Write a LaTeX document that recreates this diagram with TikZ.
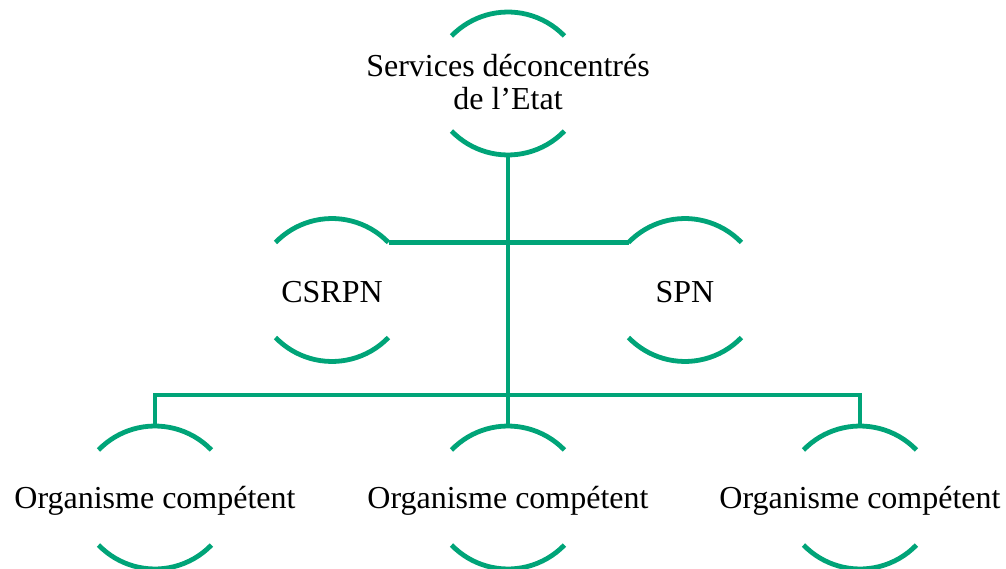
\documentclass[tikz,border=0pt]{standalone}
\usepackage{fontspec}
\setmainfont{Liberation Serif}
\definecolor{orggreen}{RGB}{0,164,120}
\tikzset{
  conn/.style={draw=orggreen, line width=4.8pt},
  lbl/.style={font=\fontsize{32}{33}\selectfont, align=center, inner sep=0pt, text=black},
  arcpair/.pic={
    \coordinate (-top) at (0,71.5);
    \coordinate (-bot) at (0,-71.5);
    \coordinate (-tl) at (-56.5,47.5);
    \coordinate (-tr) at (56.5,47.5);
    \draw[orggreen, line width=4.8pt] (-56.5,47.5) arc[start angle=136, end angle=44, radius=78.5];
    \draw[orggreen, line width=4.8pt] (-56.5,-47.5) arc[start angle=224, end angle=316, radius=78.5];
  }
}
\begin{document}
\begin{tikzpicture}[x=1pt,y=1pt]
\useasboundingbox (0,0) rectangle (1006,-569);
\pic (etat) at (508,-83.5) {arcpair};
\pic (csrpn) at (332,-290) {arcpair};
\pic (spn) at (685,-290) {arcpair};
\pic (org1) at (155,-497.5) {arcpair};
\pic (org2) at (508,-497.5) {arcpair};
\pic (org3) at (860,-497.5) {arcpair};
\node[lbl, anchor=base] (tetat) at (508,-110) {Services déconcentrés\\de l’Etat};
\node[lbl, anchor=base] (tcsrpn) at (332,-302) {CSRPN};
\node[lbl, anchor=base] (tspn) at (685,-302) {SPN};
\node[lbl, anchor=base] (torg1) at (155,-508) {Organisme compétent};
\node[lbl, anchor=base] (torg2) at (508,-508) {Organisme compétent};
\node[lbl, anchor=base] (torg3) at (860,-508) {Organisme compétent};
\coordinate (bus) at (508,-395);
\draw[conn] (csrpn-tr) -- (spn-tl);
\draw[conn] (etat-bot) -- (bus);
\draw[conn] (org1-top) |- (bus) -| (org3-top);
\draw[conn] (bus) -- (org2-top);
\end{tikzpicture}
\end{document}
